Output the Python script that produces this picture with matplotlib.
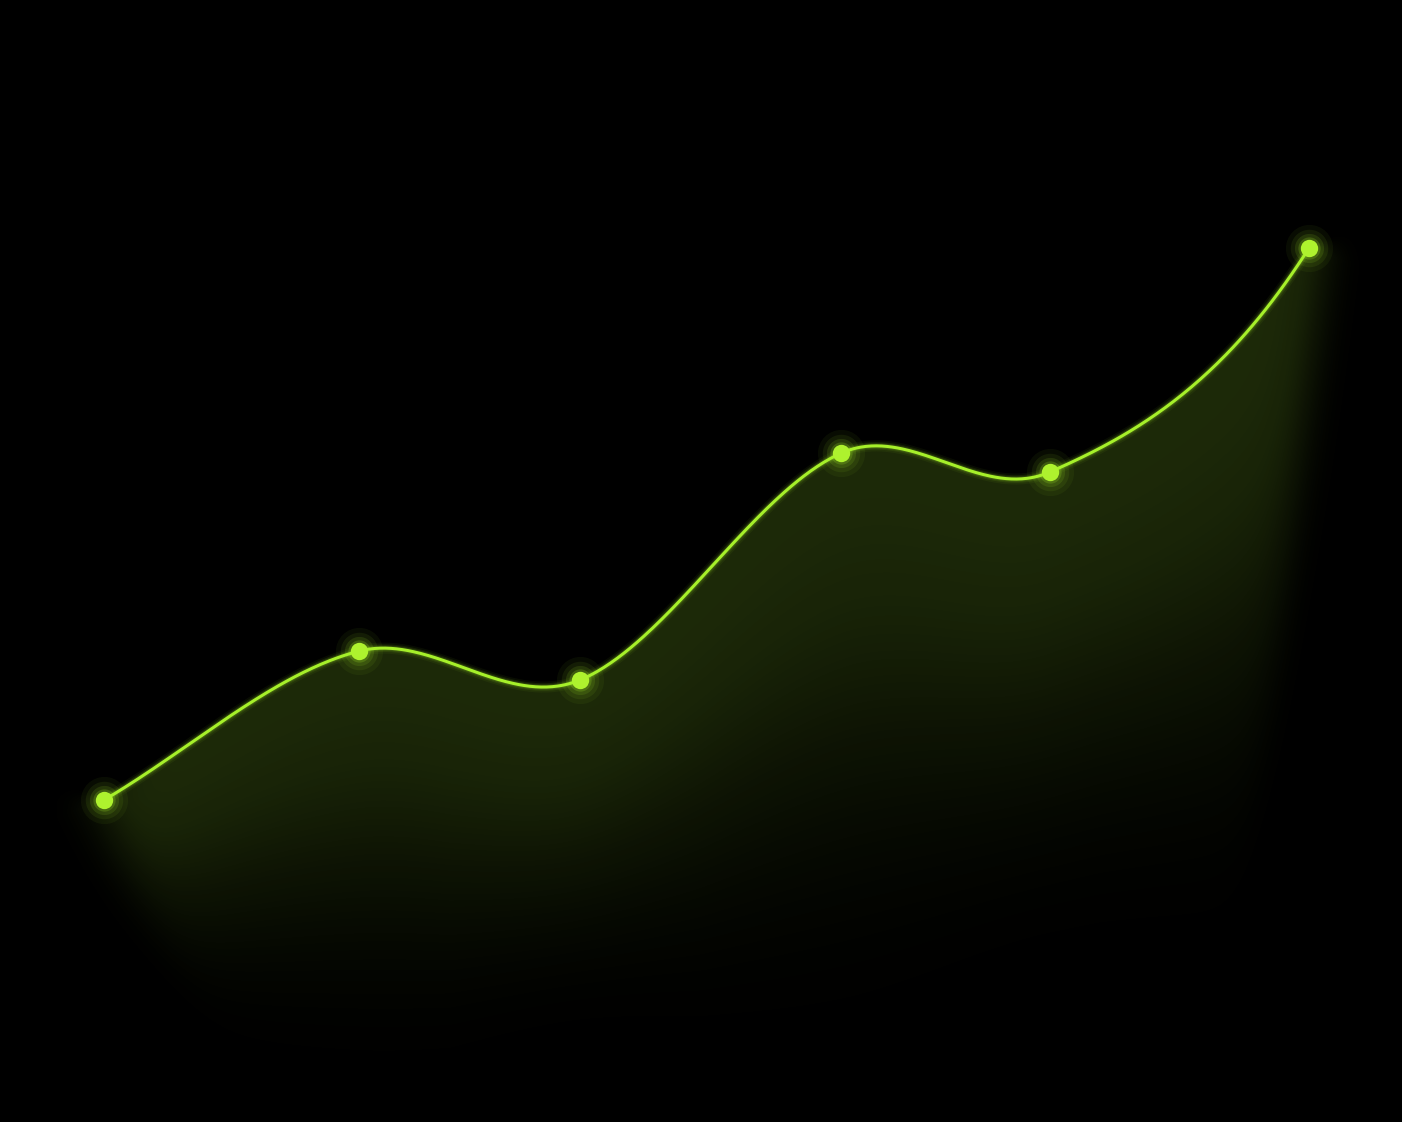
import numpy as np
import matplotlib
matplotlib.use("Agg")
import matplotlib.pyplot as plt

# ---- data ----
x_vals = [0.0, 2.12, 3.95, 6.12, 7.85, 10.0]
y_vals = [32.2, 47.1, 44.2, 66.9, 65.0, 87.4]

LINE = "#a6f02a"
POINT = "#aef22e"
END_SLOPE_FACTOR = (1.0, 1.82)   # curve style at the two ends

W, H, DPI = 1402, 1122, 100
XLIM = (-0.8631, 10.7718)
YLIM = (0.0, 112.2)


def smooth_curve(xs, ys, n=120):
    xs = np.asarray(xs, float)
    ys = np.asarray(ys, float)
    k = len(xs)
    m = np.zeros(k)
    m[1:-1] = (ys[2:] - ys[:-2]) / (xs[2:] - xs[:-2])
    m[0] = (ys[1] - ys[0]) / (xs[1] - xs[0]) * END_SLOPE_FACTOR[0]
    m[-1] = (ys[-1] - ys[-2]) / (xs[-1] - xs[-2]) * END_SLOPE_FACTOR[1]
    ox, oy = [], []
    t = np.linspace(0, 1, n)
    h00 = 2 * t**3 - 3 * t**2 + 1
    h10 = t**3 - 2 * t**2 + t
    h01 = -2 * t**3 + 3 * t**2
    h11 = t**3 - t**2
    for i in range(k - 1):
        h = xs[i + 1] - xs[i]
        sx = xs[i] + t * h
        sy = h00 * ys[i] + h10 * h * m[i] + h01 * ys[i + 1] + h11 * h * m[i + 1]
        if i > 0:
            sx, sy = sx[1:], sy[1:]
        ox.append(sx)
        oy.append(sy)
    return np.concatenate(ox), np.concatenate(oy)


cx, cy = smooth_curve(x_vals, y_vals)

fig = plt.figure(figsize=(W / DPI, H / DPI), dpi=DPI, facecolor="black")
ax = fig.add_axes([0, 0, 1, 1])
ax.set_facecolor("black")
ax.set_xlim(*XLIM)
ax.set_ylim(*YLIM)
ax.axis("off")

# ---- gradient area under the curve (computed on the axes grid) ----
xs_pix = (np.arange(W) + 0.5) / W * (XLIM[1] - XLIM[0]) + XLIM[0]
ys_pix = YLIM[1] - (np.arange(H) + 0.5) / H * (YLIM[1] - YLIM[0])
px_x = W / (XLIM[1] - XLIM[0])
px_y = H / (YLIM[1] - YLIM[0])

curve_at = np.interp(xs_pix, cx, cy)
d = (curve_at[None, :] - ys_pix[:, None]) * px_y          # px below the curve

xp = (xs_pix - XLIM[0]) * px_x                             # column position in px
yp = (YLIM[1] - ys_pix) * px_y                             # row position in px
x0p = (x_vals[0] - XLIM[0]) * px_x
xNp = (x_vals[-1] - XLIM[0]) * px_x
y0p = (YLIM[1] - y_vals[0]) * px_y
yNp = (YLIM[1] - y_vals[-1]) * px_y

# soft top edge outside the line's x-range, crisp under the line
outside = np.maximum(np.clip(x0p - xp, 0, None), np.clip(xp - xNp, 0, None))
soft = 0.6 + 0.9 * outside
top = np.clip(d[:, :] / soft[None, :] + 0.6, 0, 1)

# fade-out depth of the glow (style)
fade_x = np.array([0, 450, 700, 1100, 1402])
fade_y = np.array([985, 985, 945, 845, 790])
B = np.interp(xp, fade_x, fade_y)
cpx = (YLIM[1] - curve_at) * px_y
span = np.maximum(B - cpx, 60)
tt = np.clip(d / span[None, :], 0, None)
g = np.exp(-(tt / 0.73) ** 2.3)

Y = yp[:, None]
X = xp[None, :]
left_c = x0p - 6 + 0.45 * np.clip(Y - y0p, 0, None)
right_c = xNp + 16 - 0.12 * np.clip(Y - yNp, 0, None)
fx = 0.5 * (1 + np.tanh((X - left_c) / 32.0)) * 0.5 * (1 + np.tanh((right_c - X) / 24.0))

alpha = 0.175 * top * g * fx
rgba = np.zeros((H, W, 4))
rgba[..., 0] = 0.66
rgba[..., 1] = 0.95
rgba[..., 2] = 0.20
rgba[..., 3] = alpha
ax.imshow(rgba, extent=(XLIM[0], XLIM[1], YLIM[0], YLIM[1]), origin="upper",
          interpolation="nearest", aspect="auto", zorder=1)

# ---- glowing line ----
for lw, a in [(8, 0.05), (5.5, 0.09), (3.8, 0.15)]:
    ax.plot(cx, cy, color=LINE, lw=lw, alpha=a, solid_capstyle="round", zorder=2)
ax.plot(cx, cy, color=LINE, lw=2.2, solid_capstyle="round", zorder=3)

# ---- glowing points ----
for ms, a in [(34, 0.05), (27, 0.08), (21, 0.12), (16, 0.2)]:
    ax.plot(x_vals, y_vals, "o", ms=ms, color=LINE, alpha=a, mew=0, zorder=4)
ax.plot(x_vals, y_vals, "o", ms=12.5, color=POINT, mew=0, zorder=5)

fig.savefig("out.png", dpi=DPI, facecolor="black")
